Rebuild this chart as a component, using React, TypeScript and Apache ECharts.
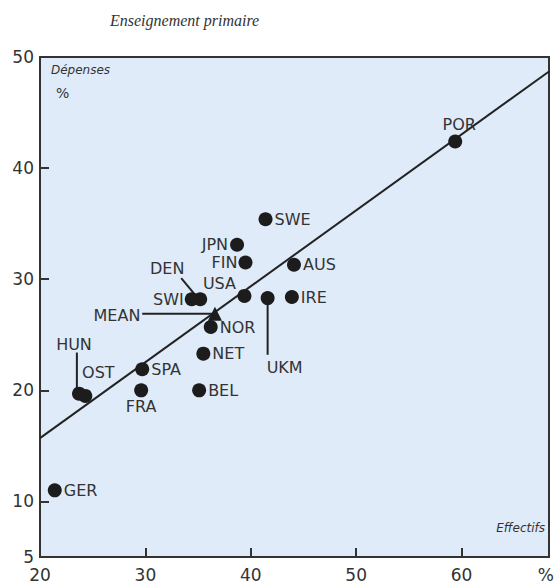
import React, { useEffect, useRef } from "react";
import * as echarts from "echarts";

const countries = ["POR", "SWE", "JPN", "FIN", "AUS", "DEN", "SWI", "USA", "UKM", "IRE", "NOR", "NET", "SPA", "FRA", "BEL", "HUN", "OST", "GER"];
const effectifs = [59.4, 41.4, 38.7, 39.5, 44.1, 35.2, 34.4, 39.4, 41.6, 43.9, 36.2, 35.5, 29.7, 29.6, 35.1, 23.7, 24.3, 21.4];
const depenses = [42.4, 35.4, 33.1, 31.5, 31.3, 28.2, 28.2, 28.5, 28.3, 28.4, 25.7, 23.3, 21.9, 20.0, 20.0, 19.7, 19.5, 11.0];
const meanPoint = [36.6, 26.9];
const trendLine = [[20, 15.7], [68.3, 48.7]];
const leaderLines = [
  [[33.4, 30.1], [34.8, 28.5]],
  [[41.6, 28.0], [41.6, 23.2]],
  [[23.5, 23.4], [23.5, 20.0]],
  [[29.7, 26.9], [36.4, 26.9]],
];
const xTickLabels = [20, 30, 40, 50, 60, 68];
const xTicks = [30, 40, 50, 60];
const yTickLabels = [5, 10, 20, 30, 40, 50];
const yTicks = [10, 20, 30, 40];

const labelPlacement: Record<string, any> = {
  POR: { position: "top", distance: 2, offset: [4, 0] },
  SWE: { position: "right", distance: 2 },
  JPN: { position: "left", distance: 2 },
  FIN: { position: "left", distance: 1 },
  AUS: { position: "right", distance: 2 },
  DEN: { position: "inside", offset: [-33, -31] },
  SWI: { position: "left", distance: 1 },
  USA: { position: "inside", offset: [-25, -12] },
  UKM: { position: "inside", offset: [17, 69] },
  IRE: { position: "right", distance: 2 },
  NOR: { position: "right", distance: 2 },
  NET: { position: "right", distance: 2 },
  SPA: { position: "right", distance: 2 },
  FRA: { position: "bottom", distance: 1 },
  BEL: { position: "right", distance: 2 },
  HUN: { position: "inside", offset: [-5, -49] },
  OST: { position: "inside", offset: [13, -23] },
  GER: { position: "right", distance: 2 },
};

const textColor = "#333";
const ink = "#1c1c1c";

export default function App() {
  const ref = useRef<HTMLDivElement>(null);
  useEffect(() => {
    if (!ref.current) return;
    const chart = echarts.init(ref.current, undefined, { renderer: "svg" });
    const points = countries.map((c, i) => ({
      name: c,
      value: [effectifs[i], depenses[i]],
      label: { show: true, formatter: c, ...labelPlacement[c] },
    }));
    const labelStyle = { fontFamily: "DejaVu Sans", fontSize: 16, color: textColor };
    chart.setOption({
      animation: false,
      grid: {
        left: 40,
        right: 8,
        top: 57,
        bottom: 29,
        show: true,
        backgroundColor: "#dfebf9",
        borderColor: "#333",
        borderWidth: 2,
      },
      xAxis: {
        type: "value",
        min: 20,
        max: 68.3,
        splitLine: { show: false },
        axisLine: { show: true, lineStyle: { color: "#333", width: 2 } },
        axisTick: { show: true, inside: true, length: 9, customValues: xTicks, lineStyle: { color: "#333", width: 2 } },
        axisLabel: {
          customValues: xTickLabels,
          formatter: (v: number) => (v === 68 ? "%" : String(v)),
          fontFamily: "DejaVu Sans",
          fontSize: 17,
          color: textColor,
          margin: 9,
        },
      },
      yAxis: {
        type: "value",
        min: 5,
        max: 50,
        interval: 5,
        splitLine: { show: false },
        axisLine: { show: true, lineStyle: { color: "#333", width: 2 } },
        axisTick: { show: true, inside: true, length: 9, customValues: yTicks, lineStyle: { color: "#333", width: 2 } },
        axisLabel: {
          customValues: yTickLabels,
          fontFamily: "DejaVu Sans",
          fontSize: 17,
          color: textColor,
          margin: 6,
        },
      },
      graphic: [
        {
          type: "text",
          left: 110,
          top: 12,
          style: { text: "Enseignement primaire", font: 'italic 16px "Liberation Serif"', fill: textColor },
        },
        {
          type: "text",
          left: 51,
          top: 64,
          style: { text: "Dépenses", font: 'italic 12px "DejaVu Sans"', fill: textColor },
        },
        {
          type: "text",
          left: 56,
          top: 86,
          style: { text: "%", font: '14px "DejaVu Sans"', fill: textColor },
        },
        {
          type: "text",
          right: 12,
          top: 522,
          style: { text: "Effectifs", font: 'italic 12px "DejaVu Sans"', fill: textColor },
        },
      ],
      series: [
        {
          type: "line",
          data: trendLine,
          symbol: "none",
          lineStyle: { color: "#222", width: 2 },
          silent: true,
          z: 2,
        },
        ...leaderLines.map((l) => ({
          type: "line",
          data: l,
          symbol: "none",
          lineStyle: { color: "#222", width: 2 },
          silent: true,
          z: 2,
        })),
        {
          type: "scatter",
          data: points,
          symbolSize: 14,
          itemStyle: { color: ink, opacity: 1 },
          label: labelStyle,
          z: 3,
        },
        {
          type: "scatter",
          data: [{ name: "MEAN", value: meanPoint, label: { show: true, formatter: "MEAN", position: "inside", offset: [-98, 2] } }],
          symbol: "triangle",
          symbolSize: 14,
          itemStyle: { color: ink, opacity: 1 },
          label: labelStyle,
          z: 3,
        },
      ],
    });
    return () => chart.dispose();
  }, []);
  return <div ref={ref} style={{ position: "absolute", left: 0, top: 0, width: 557, height: 586 }} />;
}
